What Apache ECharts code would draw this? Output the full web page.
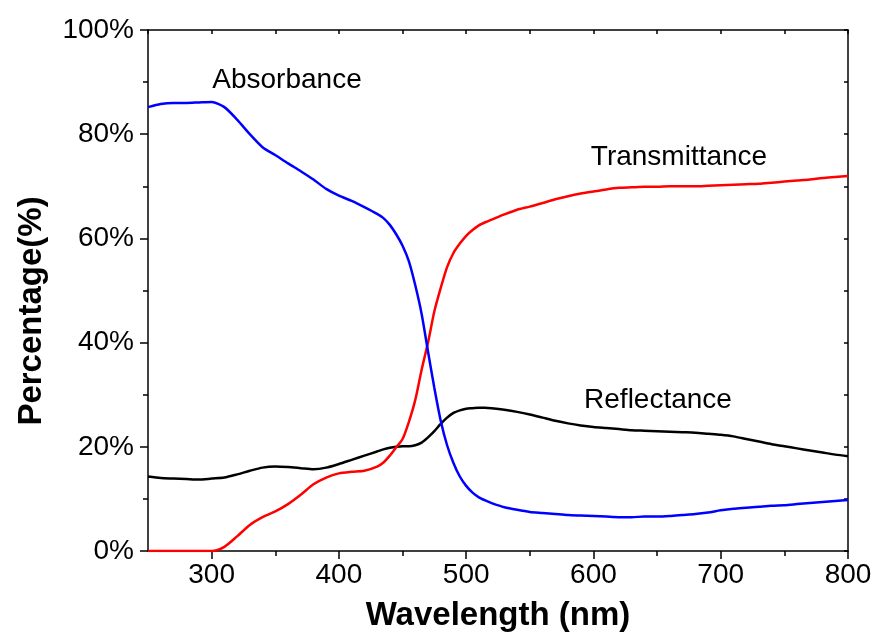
<!DOCTYPE html>
<html>
<head>
<meta charset="utf-8">
<script src="https://cdn.jsdelivr.net/npm/echarts@6/dist/echarts.min.js"></script>
<style>
  html, body { margin: 0; padding: 0; background: #fff; }
  #chart { width: 875px; height: 642px; }
</style>
</head>
<body>
<div id="chart"></div>
<script>
// wavelength (nm), finer steps through the steep edge
const wavelengths = [
  250, 260, 270, 280, 290, 300, 310, 320, 330, 340, 350, 360, 370, 380, 390, 400, 410, 420,
  430, 435, 440, 445, 450, 455, 460, 465, 470, 475, 480, 485, 490, 495, 500, 505, 510, 515, 520,
  530, 540, 550, 560, 570, 580, 590, 600, 610, 620, 630, 640, 650, 660, 670, 680, 690, 700,
  710, 720, 730, 740, 750, 760, 770, 780, 790, 800
];

const absorbance = [
  85.2, 85.8, 86.0, 86.0, 86.1, 86.2, 85.2, 82.8, 80.0, 77.5, 76.0, 74.4, 72.9, 71.3, 69.5, 68.2, 67.2, 66.0,
  64.7, 63.9, 62.6, 60.8, 58.6, 55.6, 51.0, 45.5, 38.3, 31.3, 25.0, 20.3, 16.9, 14.3, 12.5, 11.2, 10.3, 9.7, 9.2,
  8.4, 7.9, 7.5, 7.3, 7.1, 6.9, 6.8, 6.7, 6.6, 6.5, 6.5, 6.6, 6.6, 6.7, 6.9, 7.1, 7.4, 7.8,
  8.1, 8.3, 8.5, 8.7, 8.8, 9.0, 9.2, 9.4, 9.6, 9.8
];

const transmittance = [
  0, 0, 0, 0, 0, 0, 0.8, 2.8, 5.0, 6.5, 7.6, 9.0, 10.8, 12.8, 14.1, 14.9, 15.2, 15.4,
  16.2, 17.0, 18.3, 19.9, 21.5, 24.8, 29.0, 34.8, 40.0, 46.0, 50.5, 54.5, 57.2, 59.0, 60.5, 61.6, 62.5, 63.1, 63.6,
  64.6, 65.5, 66.1, 66.8, 67.5, 68.1, 68.6, 69.0, 69.4, 69.7, 69.8, 69.9, 69.9, 70.0, 70.0, 70.0, 70.1, 70.2,
  70.3, 70.4, 70.5, 70.7, 70.9, 71.1, 71.3, 71.6, 71.8, 72.0
];

const reflectance = [
  14.3, 14.0, 13.9, 13.8, 13.7, 13.9, 14.1, 14.7, 15.4, 16.0, 16.2, 16.1, 15.9, 15.7, 16.0, 16.7, 17.5, 18.3,
  19.1, 19.5, 19.8, 20.0, 20.1, 20.1, 20.3, 20.8, 21.8, 23.0, 24.4, 25.6, 26.5, 27.0, 27.3, 27.4, 27.5, 27.5, 27.4,
  27.1, 26.7, 26.2, 25.6, 25.0, 24.5, 24.1, 23.8, 23.6, 23.4, 23.2, 23.1, 23.0, 22.9, 22.8, 22.7, 22.5, 22.3,
  22.0, 21.5, 21.0, 20.5, 20.1, 19.7, 19.3, 18.9, 18.5, 18.2
];

const xMajorTicks = [300, 400, 500, 600, 700, 800];
const xMinorTicks = [350, 450, 550, 650, 750];

const FONT = '"Liberation Sans", Arial, sans-serif';

const pairs = (ys) => wavelengths.map((x, i) => [x, ys[i]]);

const chart = echarts.init(document.getElementById("chart"));

const lineSeries = (name, ys, color) => ({
  name,
  type: "line",
  data: pairs(ys),
  showSymbol: false,
  smooth: 0.25,
  lineStyle: { color, width: 2.5 },
  itemStyle: { color },
  z: 3,
});

const option = {
  animation: false,
  backgroundColor: "#fff",
  grid: { left: 148, right: 27, top: 30, bottom: 91, containLabel: false, outerBoundsMode: "none" },
  xAxis: [
    {
      type: "value",
      position: "bottom",
      min: 250,
      max: 800,
      interval: 50,
      axisLine: { lineStyle: { color: "#000", width: 1.5 } },
      axisTick: { customValues: xMajorTicks, length: 8, lineStyle: { color: "#000", width: 1.5 } },
      axisLabel: {
        customValues: xMajorTicks,
        color: "#000",
        fontFamily: FONT,
        fontSize: 28,
        margin: 10,
      },
      splitLine: { show: false },
      name: "Wavelength (nm)",
      nameLocation: "middle",
      nameGap: 48,
      nameTextStyle: { color: "#000", fontFamily: FONT, fontSize: 33, fontWeight: "bold" },
    },
    {
      type: "value",
      position: "bottom",
      min: 250,
      max: 800,
      interval: 50,
      axisLine: { show: false },
      axisTick: { customValues: xMinorTicks, length: 5, lineStyle: { color: "#000", width: 1.5 } },
      axisLabel: { show: false },
      splitLine: { show: false },
    },
    {
      type: "value",
      position: "top",
      min: 250,
      max: 800,
      interval: 50,
      axisLine: { show: true, lineStyle: { color: "#000", width: 1.5 } },
      axisTick: { show: true, inside: true, length: 4, lineStyle: { color: "#000", width: 1.5 } },
      axisLabel: { show: false },
      splitLine: { show: false },
    },
  ],
  yAxis: [
    {
      type: "value",
      position: "left",
      min: 0,
      max: 100,
      interval: 20,
      axisLine: { show: true, lineStyle: { color: "#000", width: 1.5 } },
      axisTick: { show: true, length: 8, lineStyle: { color: "#000", width: 1.5 } },
      minorTick: { show: true, splitNumber: 2, length: 5, lineStyle: { color: "#000", width: 1.5 } },
      axisLabel: {
        formatter: "{value}%",
        color: "#000",
        fontFamily: FONT,
        fontSize: 28,
        margin: 14,
      },
      splitLine: { show: false },
    },
    {
      type: "value",
      position: "right",
      min: 0,
      max: 100,
      interval: 10,
      axisLine: { show: true, lineStyle: { color: "#000", width: 1.5 } },
      axisTick: { show: true, inside: true, length: 4, lineStyle: { color: "#000", width: 1.5 } },
      axisLabel: { show: false },
      splitLine: { show: false },
    },
  ],
  series: [
    lineSeries("Reflectance", reflectance, "#000000"),
    lineSeries("Transmittance", transmittance, "#ff0000"),
    lineSeries("Absorbance", absorbance, "#0000ff"),
  ],
  graphic: [
    {
      type: "text",
      x: 32,
      y: 311,
      rotation: Math.PI / 2,
      style: {
        text: "Percentage(%)",
        fill: "#000",
        font: `bold 33px ${FONT}`,
        textAlign: "center",
        textVerticalAlign: "middle",
      },
    },
    {
      type: "text",
      x: 287,
      y: 80,
      style: { text: "Absorbance", fill: "#000", font: `28px ${FONT}`, textAlign: "center", textVerticalAlign: "middle" },
    },
    {
      type: "text",
      x: 679,
      y: 157,
      style: { text: "Transmittance", fill: "#000", font: `28px ${FONT}`, textAlign: "center", textVerticalAlign: "middle" },
    },
    {
      type: "text",
      x: 658,
      y: 400,
      style: { text: "Reflectance", fill: "#000", font: `28px ${FONT}`, textAlign: "center", textVerticalAlign: "middle" },
    },
  ],
};

chart.setOption(option);
</script>
</body>
</html>
